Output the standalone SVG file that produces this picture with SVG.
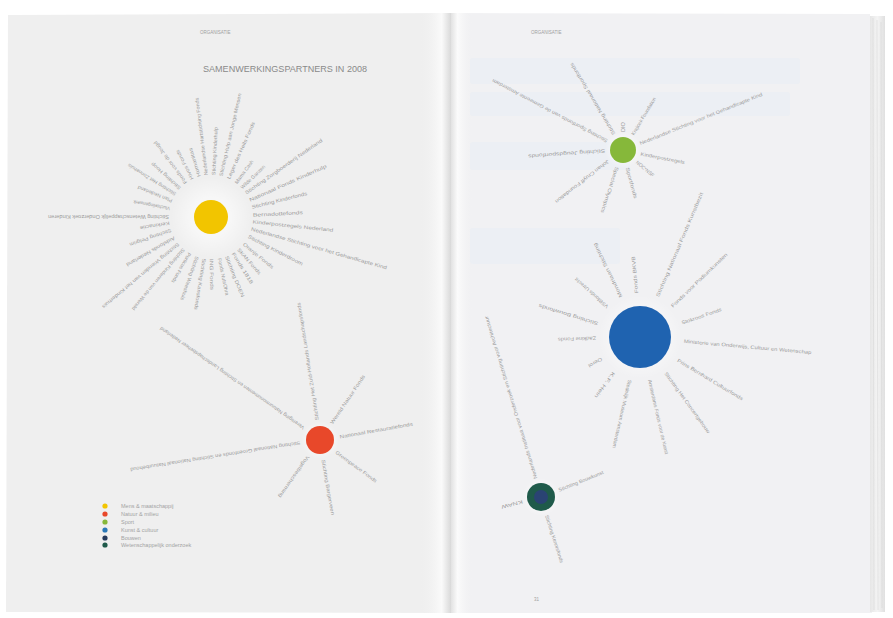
<svg xmlns="http://www.w3.org/2000/svg" width="893" height="618" viewBox="0 0 893 618">
<defs>
<linearGradient id="gutL" x1="0" x2="1" y1="0" y2="0">
<stop offset="0" stop-color="#efefef" stop-opacity="0"/>
<stop offset="0.7" stop-color="#fafafa" stop-opacity="1"/>
<stop offset="1" stop-color="#d9d9d9" stop-opacity="1"/>
</linearGradient>
<linearGradient id="gutR" x1="0" x2="1" y1="0" y2="0">
<stop offset="0" stop-color="#e2e2e2"/>
<stop offset="0.3" stop-color="#fbfbfb"/>
<stop offset="1" stop-color="#f1f1f3" stop-opacity="0"/>
</linearGradient>
<linearGradient id="edge" x1="0" x2="1" y1="0" y2="0">
<stop offset="0" stop-color="#e6e6e6"/>
<stop offset="0.5" stop-color="#f4f4f4"/>
<stop offset="1" stop-color="#e0e0e0"/>
</linearGradient>
<radialGradient id="halo">
<stop offset="0.5" stop-color="#ffffff" stop-opacity="0.5"/>
<stop offset="1" stop-color="#ffffff" stop-opacity="0"/>
</radialGradient>
</defs>
<style>
.lb{font-family:"Liberation Sans",Arial,sans-serif;font-size:5px;fill:#9c9c9c;dominant-baseline:central}
.hd{font-family:"Liberation Sans",Arial,sans-serif;font-size:4.5px;fill:#a0a0a0}
.ttl{font-family:"Liberation Sans",Arial,sans-serif;font-size:9.5px;fill:#8a8a8a}
.lg{font-family:"Liberation Sans",Arial,sans-serif;font-size:5.5px;fill:#a3a3a3;dominant-baseline:central}
.ghost{fill:#e6edf6;opacity:0.45}
</style>
<rect width="893" height="618" fill="#ffffff"/>
<!-- pages -->
<path d="M8 15 L450 13 L450 613 L6 612 Z" fill="#efefef"/>
<rect x="420" y="13" width="31" height="600" fill="url(#gutL)"/>
<path d="M451 13 L870 14 L872 613 L451 613 Z" fill="#f1f1f3"/>
<rect x="451" y="13" width="22" height="600" fill="url(#gutR)"/>
<rect x="870" y="16" width="15" height="596" fill="url(#edge)"/>
<g stroke="#d6d6d6" stroke-width="0.6">
<line x1="873" y1="18" x2="874" y2="610"/>
<line x1="877" y1="20" x2="878" y2="610"/>
<line x1="881" y1="22" x2="882" y2="608"/>
</g>
<!-- faint show-through on right page -->
<g class="ghost">
<rect x="470" y="58" width="330" height="26" rx="3"/>
<rect x="470" y="92" width="320" height="24" rx="3"/>
<rect x="470" y="142" width="160" height="28" rx="3"/>
<rect x="470" y="228" width="150" height="36" rx="3"/>
</g>
<!-- headers -->
<text class="hd" x="200" y="34">ORGANISATIE</text>
<text class="hd" x="531" y="34">ORGANISATIE</text>
<text class="ttl" x="203" y="72" textLength="164" lengthAdjust="spacingAndGlyphs">SAMENWERKINGSPARTNERS IN 2008</text>
<text class="hd" x="534" y="601">31</text>

<!-- Mens & maatschappij -->
<g id="node-mens-maatschappij" transform="translate(211 217)">
<circle r="40" fill="url(#halo)"/>
<circle r="17" fill="#f2c500"/>
<text class="lb" transform="rotate(-107)" x="42" textLength="30" lengthAdjust="spacingAndGlyphs">Humanitas</text>
<text class="lb" transform="rotate(-97)" x="42" textLength="78" lengthAdjust="spacingAndGlyphs">Nederlandse Hartstichting Fonds</text>
<text class="lb" transform="rotate(-87)" x="42" textLength="48" lengthAdjust="spacingAndGlyphs">Stichting Kinderhulp</text>
<text class="lb" transform="rotate(-77)" x="42" textLength="85" lengthAdjust="spacingAndGlyphs">Stichting Hulp aan Jonge Mensen</text>
<text class="lb" transform="rotate(-66)" x="42" textLength="62" lengthAdjust="spacingAndGlyphs">Leger des Heils Fonds</text>
<text class="lb" transform="rotate(-54)" x="42" textLength="28" lengthAdjust="spacingAndGlyphs">Mama Cash</text>
<text class="lb" transform="rotate(-44)" x="42" textLength="32" lengthAdjust="spacingAndGlyphs">Wilde Ganzen</text>
<text class="lb" transform="rotate(-35)" x="42" textLength="93" lengthAdjust="spacingAndGlyphs">Stichting Zorgboerderij Nederland</text>
<text class="lb" transform="rotate(-24)" x="42" textLength="84" lengthAdjust="spacingAndGlyphs">Nationaal Fonds Kinderhulp</text>
<text class="lb" transform="rotate(-14)" x="42" textLength="57" lengthAdjust="spacingAndGlyphs">Stichting Kinderfonds</text>
<text class="lb" transform="rotate(-3)" x="42" textLength="50" lengthAdjust="spacingAndGlyphs">Bernadottefonds</text>
<text class="lb" transform="rotate(6)" x="42" textLength="81" lengthAdjust="spacingAndGlyphs">Kinderpostzegels Nederland</text>
<text class="lb" transform="rotate(16)" x="42" textLength="141" lengthAdjust="spacingAndGlyphs">Nederlandse Stichting voor het Gehandicapte Kind</text>
<text class="lb" transform="rotate(27)" x="42" textLength="61" lengthAdjust="spacingAndGlyphs">Stichting Kinderdroom</text>
<text class="lb" transform="rotate(39)" x="42" textLength="38" lengthAdjust="spacingAndGlyphs">Oranje Fonds</text>
<text class="lb" transform="rotate(49)" x="42" textLength="33" lengthAdjust="spacingAndGlyphs">SKAN Fonds</text>
<text class="lb" transform="rotate(58)" x="42" textLength="36" lengthAdjust="spacingAndGlyphs">Fonds 1818</text>
<text class="lb" transform="rotate(68)" x="42" textLength="44" lengthAdjust="spacingAndGlyphs">Stichting DOEN</text>
<text class="lb" transform="rotate(78)" x="42" textLength="38" lengthAdjust="spacingAndGlyphs">Fonds NutsOhra</text>
<text class="lb" transform="rotate(89)" x="42" textLength="31" lengthAdjust="spacingAndGlyphs">ING Fonds</text>
<text class="lb" transform="rotate(99)" x="42" textLength="52" lengthAdjust="spacingAndGlyphs">Stichting Kansfonds</text>
<text class="lb" transform="rotate(109)" x="42" textLength="46" lengthAdjust="spacingAndGlyphs">Stichting Weeshuis</text>
<text class="lb" transform="rotate(120)" x="42" textLength="34" lengthAdjust="spacingAndGlyphs">Porticus Fonds</text>
<text class="lb" transform="rotate(130)" x="42" textLength="79" lengthAdjust="spacingAndGlyphs">Stichting Kinderen van de Wereld</text>
<text class="lb" transform="rotate(140)" x="42" textLength="99" lengthAdjust="spacingAndGlyphs">Stichting Vrienden van het Kinderhuis</text>
<text class="lb" transform="rotate(150)" x="42" textLength="55" lengthAdjust="spacingAndGlyphs">Aidsfonds Nederland</text>
<text class="lb" transform="rotate(161)" x="42" textLength="44" lengthAdjust="spacingAndGlyphs">Stichting Pelgrim</text>
<text class="lb" transform="rotate(171)" x="42" textLength="30" lengthAdjust="spacingAndGlyphs">Kerkinactie</text>
<text class="lb" transform="rotate(180)" x="42" textLength="121" lengthAdjust="spacingAndGlyphs">Stichting Wetenschappelijk Onderzoek Kinderen</text>
<text class="lb" transform="rotate(191)" x="42" textLength="37" lengthAdjust="spacingAndGlyphs">Vluchtelingenwerk</text>
<text class="lb" transform="rotate(202)" x="42" textLength="37" lengthAdjust="spacingAndGlyphs">Plan Nederland</text>
<text class="lb" transform="rotate(212)" x="42" textLength="56" lengthAdjust="spacingAndGlyphs">Stichting Het Zonnehuis</text>
<text class="lb" transform="rotate(222)" x="42" textLength="38" lengthAdjust="spacingAndGlyphs">Stichting Hoop</text>
<text class="lb" transform="rotate(233)" x="42" textLength="52" lengthAdjust="spacingAndGlyphs">Fonds voor de Jeugd</text>
<text class="lb" transform="rotate(243)" x="42" textLength="33" lengthAdjust="spacingAndGlyphs">Hivos Fonds</text>
</g>

<!-- Natuur & milieu -->
<g id="node-natuur-milieu" transform="translate(320 440)">
<circle r="19" fill="url(#halo)"/>
<circle r="14" fill="#e8482a"/>
<text class="lb" transform="rotate(-145)" x="20" textLength="175" lengthAdjust="spacingAndGlyphs">Vereniging Natuurmonumenten en Stichting Landschapsbeheer Nederland</text>
<text class="lb" transform="rotate(-99)" x="20" textLength="119" lengthAdjust="spacingAndGlyphs">Stichting Het Zuid-Hollands Landschapsfonds</text>
<text class="lb" transform="rotate(-56)" x="20" textLength="58" lengthAdjust="spacingAndGlyphs">Wereld Natuur Fonds</text>
<text class="lb" transform="rotate(-10)" x="20" textLength="74" lengthAdjust="spacingAndGlyphs">Nationaal Restauratiefonds</text>
<text class="lb" transform="rotate(36)" x="20" textLength="50" lengthAdjust="spacingAndGlyphs">Greenpeace Fonds</text>
<text class="lb" transform="rotate(80)" x="20" textLength="56" lengthAdjust="spacingAndGlyphs">Stichting Bargerveen</text>
<text class="lb" transform="rotate(125)" x="20" textLength="50" lengthAdjust="spacingAndGlyphs">Vogelbescherming</text>
<text class="lb" transform="rotate(171)" x="20" textLength="172" lengthAdjust="spacingAndGlyphs">Stichting Nationaal Groenfonds en Stichting Nationaal Natuurbehoud</text>
</g>

<!-- Sport -->
<g id="node-sport" transform="translate(623 150)">
<circle r="18" fill="url(#halo)"/>
<circle r="13" fill="#86b83a"/>
<text class="lb" transform="rotate(208)" x="18" textLength="130" lengthAdjust="spacingAndGlyphs">Stichting Sportfonds van de Gemeente Amsterdam</text>
<text class="lb" transform="rotate(239)" x="18" textLength="83" lengthAdjust="spacingAndGlyphs">Stichting Nationaal Sportfonds</text>
<text class="lb" transform="rotate(-90)" x="18" textLength="10" lengthAdjust="spacingAndGlyphs">DIO</text>
<text class="lb" transform="rotate(-59)" x="18" textLength="43" lengthAdjust="spacingAndGlyphs">Krajicek Foundation</text>
<text class="lb" transform="rotate(-22)" x="18" textLength="132" lengthAdjust="spacingAndGlyphs">Nederlandse Stichting voor het Gehandicapte Kind</text>
<text class="lb" transform="rotate(11)" x="18" textLength="45" lengthAdjust="spacingAndGlyphs">Kinderpostzegels</text>
<text class="lb" transform="rotate(40)" x="18" textLength="22" lengthAdjust="spacingAndGlyphs">NOC*NSF</text>
<text class="lb" transform="rotate(75)" x="18" textLength="32" lengthAdjust="spacingAndGlyphs">Sportfonds</text>
<text class="lb" transform="rotate(108)" x="18" textLength="48" lengthAdjust="spacingAndGlyphs">Special Olympics</text>
<text class="lb" transform="rotate(142)" x="18" textLength="67" lengthAdjust="spacingAndGlyphs">Johan Cruyff Foundation</text>
<text class="lb" transform="rotate(176)" x="18" textLength="77" lengthAdjust="spacingAndGlyphs">Stichting Jeugdsportfonds</text>
</g>

<!-- Kunst & cultuur -->
<g id="node-kunst-cultuur" transform="translate(640 337)">
<circle r="42" fill="url(#halo)"/>
<circle r="31" fill="#1f63b0"/>
<text class="lb" transform="rotate(-116)" x="44" textLength="60" lengthAdjust="spacingAndGlyphs">Mondriaan Stichting</text>
<text class="lb" transform="rotate(-95)" x="44" textLength="37" lengthAdjust="spacingAndGlyphs">Fonds BKVB</text>
<text class="lb" transform="rotate(-67)" x="44" textLength="113" lengthAdjust="spacingAndGlyphs">Stichting Nationaal Fonds Kunstbezit</text>
<text class="lb" transform="rotate(-44)" x="44" textLength="76" lengthAdjust="spacingAndGlyphs">Fonds voor Podiumkunsten</text>
<text class="lb" transform="rotate(-19)" x="44" textLength="42" lengthAdjust="spacingAndGlyphs">Stokroos Fonds</text>
<text class="lb" transform="rotate(5)" x="44" textLength="128" lengthAdjust="spacingAndGlyphs">Ministerie van Onderwijs, Cultuur en Wetenschap</text>
<text class="lb" transform="rotate(31)" x="44" textLength="76" lengthAdjust="spacingAndGlyphs">Prins Bernhard Cultuurfonds</text>
<text class="lb" transform="rotate(54)" x="44" textLength="74" lengthAdjust="spacingAndGlyphs">Stichting Het Concertgebouw</text>
<text class="lb" transform="rotate(77)" x="44" textLength="76" lengthAdjust="spacingAndGlyphs">Amsterdams Fonds voor de Kunst</text>
<text class="lb" transform="rotate(103)" x="44" textLength="70" lengthAdjust="spacingAndGlyphs">Stedelijk Museum Amsterdam</text>
<text class="lb" transform="rotate(126)" x="44" textLength="31" lengthAdjust="spacingAndGlyphs">K.F. Hein</text>
<text class="lb" transform="rotate(150)" x="44" textLength="15" lengthAdjust="spacingAndGlyphs">Oerol</text>
<text class="lb" transform="rotate(178)" x="44" textLength="38" lengthAdjust="spacingAndGlyphs">Zadkine Fonds</text>
<text class="lb" transform="rotate(197)" x="44" textLength="62" lengthAdjust="spacingAndGlyphs">Stichting Bouwfonds</text>
<text class="lb" transform="rotate(222)" x="44" textLength="43" lengthAdjust="spacingAndGlyphs">VSBfonds Utrecht</text>
</g>

<!-- Bouwen / Wetenschappelijk onderzoek -->
<g id="node-bouwen-onderzoek" transform="translate(541 497)">
<circle r="19" fill="url(#halo)"/>
<circle r="14" fill="#1f5a4a"/>
<circle r="7" fill="#2d3f7a" opacity="0.85"/>
<text class="lb" transform="rotate(253)" x="19" textLength="170" lengthAdjust="spacingAndGlyphs">Nederlands Instituut voor Onderzoek en Stichting voor Architectuur</text>
<text class="lb" transform="rotate(-22)" x="19" textLength="48" lengthAdjust="spacingAndGlyphs">Stichting Bouwkunst</text>
<text class="lb" transform="rotate(72)" x="19" textLength="50" lengthAdjust="spacingAndGlyphs">Stichting Kennisfonds</text>
<text class="lb" transform="rotate(165)" x="19" textLength="22" lengthAdjust="spacingAndGlyphs">KNAW</text>
</g>

<!-- connectors: the rays are formed by the label texts; no separate lines -->
<g id="connectors"/>

<!-- legend -->
<g id="legend">
<circle cx="105" cy="506" r="2.6" fill="#f2c500"/>
<circle cx="105" cy="514" r="2.6" fill="#e8482a"/>
<circle cx="105" cy="522" r="2.6" fill="#86b83a"/>
<circle cx="105" cy="530" r="2.6" fill="#2a78b8"/>
<circle cx="105" cy="538" r="2.6" fill="#253a5c"/>
<circle cx="105" cy="545" r="2.6" fill="#1f5a4a"/>
<text class="lg" x="121" y="506">Mens &amp; maatschappij</text>
<text class="lg" x="121" y="514">Natuur &amp; milieu</text>
<text class="lg" x="121" y="522">Sport</text>
<text class="lg" x="121" y="530">Kunst &amp; cultuur</text>
<text class="lg" x="121" y="538">Bouwen</text>
<text class="lg" x="121" y="545">Wetenschappelijk onderzoek</text>
</g>
</svg>
